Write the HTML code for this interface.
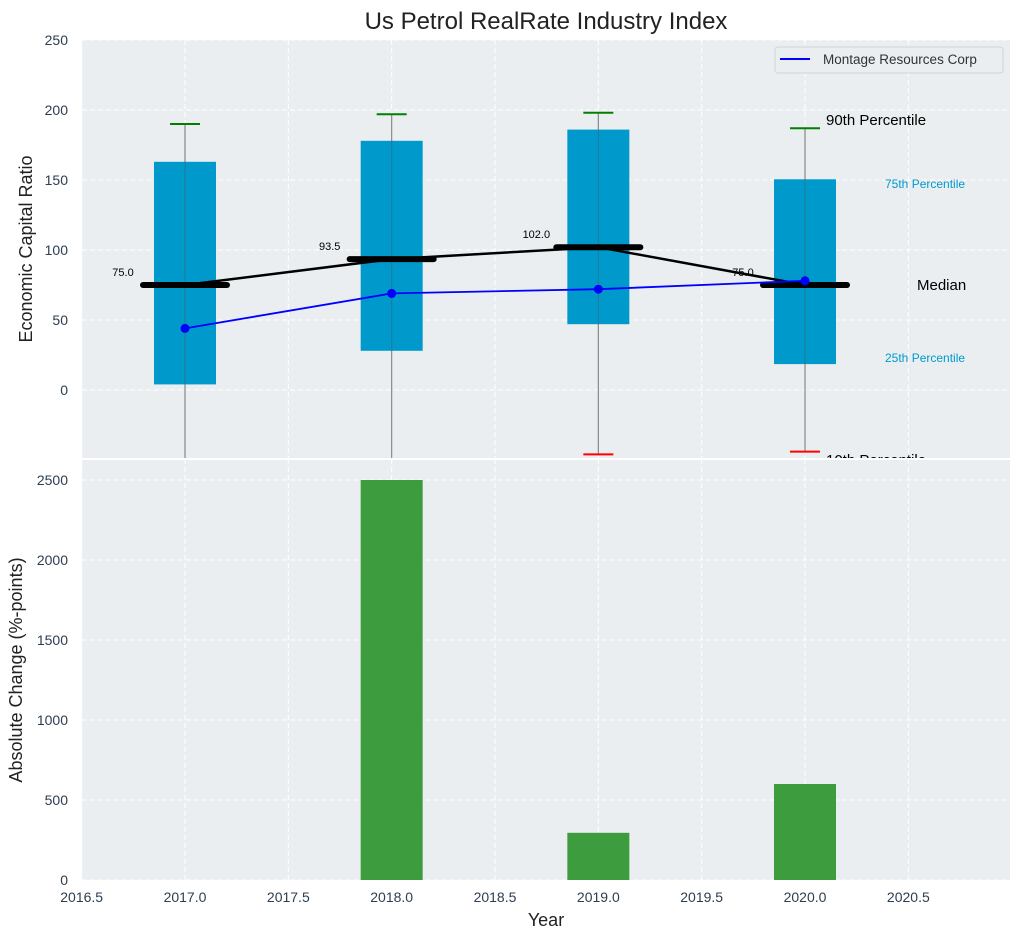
<!DOCTYPE html>
<html><head><meta charset="utf-8"><style>
body{margin:0;background:#fff;font-family:"Liberation Sans",sans-serif;}
svg text{font-family:"Liberation Sans",sans-serif;}
</style></head><body>
<svg id="c" width="1020" height="940" xmlns="http://www.w3.org/2000/svg"></svg>
<script>
const years=[2017,2018,2019,2020];
const q25=[4,28,47,18.5];
const q75=[163,178,186,150.5];
const p90=[190,197,198,187];
const p10=[-80,-80,-46,-44];
const medians=[75,93.5,102,75];
const company=[44,69,72,78];
const barYears=[2018,2019,2020];
const barValues=[2500,295,600];
const xTicks=[2016.5,2017,2017.5,2018,2018.5,2019,2019.5,2020,2020.5];
const yTopTicks=[0,50,100,150,200,250];
const yBotTicks=[0,500,1000,1500,2000,2500];

const NS="http://www.w3.org/2000/svg";
const svg=document.getElementById('c');
const L=82,R=1010;
const T1=40,B1=458,T2=459,B2=880;
const PX=206.67;
const x=v=>185+(v-2017)*PX;
const y1=v=>390-v*1.4;
const y2=v=>B2-v*0.16;
function el(tag,attrs,parent){const e=document.createElementNS(NS,tag);for(const k in attrs)e.setAttribute(k,attrs[k]);(parent||svg).appendChild(e);return e;}
function txt(s,attrs,parent){const e=el('text',attrs,parent);e.textContent=s;return e;}

const defs=el('defs',{});
const cp=el('clipPath',{id:'cp1'},defs);el('rect',{x:L,y:T1,width:R-L,height:B1-T1},cp);

const g1=el('g',{});


el('rect',{x:L,y:T1,width:R-L,height:B1-T1,fill:'#eaeef0'},g1);
xTicks.forEach(t=>{el('line',{x1:x(t),x2:x(t),y1:T1,y2:B1,stroke:'#fff','stroke-dasharray':'5,3','stroke-width':1},g1);});
yTopTicks.forEach(t=>{el('line',{x1:L,x2:R,y1:y1(t),y2:y1(t),stroke:'#fff','stroke-dasharray':'5,3'},g1);
 const tl=txt(String(t),{x:68,y:y1(t)+5,'text-anchor':'end','font-size':14,fill:'#2c3e50'},g1);
 });
const pg=el('g',{'clip-path':'url(#cp1)'},g1);
years.forEach((yr,i)=>{
 const cx=x(yr),hw=0.15*PX;
 const w=el('line',{x1:cx,x2:cx,y1:y1(p90[i]),y2:y1(p10[i]),stroke:'#888','stroke-width':1.2},pg);
 
 const b=el('rect',{x:cx-hw,y:y1(q75[i]),width:2*hw,height:y1(q25[i])-y1(q75[i]),fill:'#0099cc'},pg);
 
 el('line',{x1:cx,x2:cx,y1:y1(q75[i]),y2:y1(q25[i]),stroke:'#555','stroke-width':1,opacity:0.5},pg);
 el('line',{x1:cx-15,x2:cx+15,y1:y1(p90[i]),y2:y1(p90[i]),stroke:'green','stroke-width':2},pg);
 el('line',{x1:cx-15,x2:cx+15,y1:y1(p10[i]),y2:y1(p10[i]),stroke:'red','stroke-width':2},pg);
});
el('polyline',{points:years.map((yr,i)=>x(yr)+','+y1(medians[i])).join(' '),fill:'none',stroke:'#000','stroke-width':2.5},pg);
years.forEach((yr,i)=>{
 const m=el('line',{x1:x(yr)-42,x2:x(yr)+42,y1:y1(medians[i]),y2:y1(medians[i]),stroke:'#000','stroke-width':6,'stroke-linecap':'round'},pg);
 
 txt(medians[i].toFixed(1),{x:x(yr)-62,y:y1(medians[i])-9,'text-anchor':'middle','font-size':11,fill:'#000'},pg);
});
el('polyline',{points:years.map((yr,i)=>x(yr)+','+y1(company[i])).join(' '),fill:'none',stroke:'blue','stroke-width':1.8},pg);
years.forEach((yr,i)=>{const p=el('circle',{cx:x(yr),cy:y1(company[i]),r:4.5,fill:'blue'},pg);
 });
txt('90th Percentile',{x:826,y:125,'font-size':15,fill:'#000'},g1);
txt('75th Percentile',{x:885,y:188,'font-size':12,fill:'#0099cc'},g1);
txt('Median',{x:917,y:290,'font-size':15,fill:'#000'},g1);
txt('25th Percentile',{x:885,y:362,'font-size':12,fill:'#0099cc'},g1);
txt('10th Percentile',{x:826,y:465,'font-size':15,fill:'#000'});
const lg=el('g',{});

el('rect',{x:775,y:47,width:228,height:26,rx:3,fill:'#eaeef0',stroke:'#d0d4d6'},lg);
el('line',{x1:780,x2:810,y1:59,y2:59,stroke:'blue','stroke-width':2},lg);
txt('Montage Resources Corp',{x:823,y:64,'font-size':13.5,fill:'#333'},lg);
txt('Us Petrol RealRate Industry Index',{x:546,y:29,'text-anchor':'middle','font-size':24,fill:'#222'});
const yl1=txt('Economic Capital Ratio',{x:0,y:0,transform:'translate(32,249) rotate(-90)','text-anchor':'middle','font-size':18,fill:'#222'});


const g2=el('g',{});


el('rect',{x:0,y:B1,width:1020,height:2,fill:'#fff'},g2);
el('rect',{x:L,y:T2+1,width:R-L,height:B2-T2-1,fill:'#eaeef0'},g2);
xTicks.forEach(t=>{el('line',{x1:x(t),x2:x(t),y1:T2,y2:B2,stroke:'#fff','stroke-dasharray':'5,3'},g2);
 const tl=txt(t.toFixed(1),{x:x(t),y:B2+22,'text-anchor':'middle','font-size':14,fill:'#2c3e50'},g2);
 });
yBotTicks.forEach(t=>{el('line',{x1:L,x2:R,y1:y2(t),y2:y2(t),stroke:'#fff','stroke-dasharray':'5,3'},g2);
 txt(String(t),{x:68,y:y2(t)+5,'text-anchor':'end','font-size':14,fill:'#2c3e50'},g2);});
barYears.forEach((yr,i)=>{const hw=0.15*PX;
 const b=el('rect',{x:x(yr)-hw,y:y2(barValues[i]),width:2*hw,height:B2-y2(barValues[i]),fill:'#3d9c3d'},g2);
 });
const yl2=txt('Absolute Change (%-points)',{x:0,y:0,transform:'translate(22,670) rotate(-90)','text-anchor':'middle','font-size':18,fill:'#222'});

const xl=txt('Year',{x:546,y:926,'text-anchor':'middle','font-size':18,fill:'#222'});

</script>
</body></html>
